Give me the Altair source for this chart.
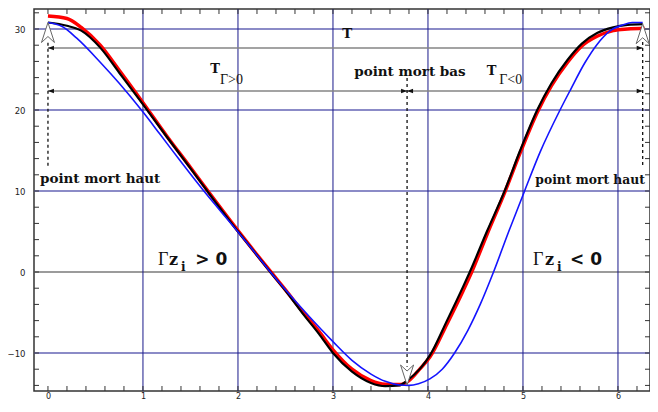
import altair as alt
import pandas as pd

# ---------------- curve data ----------------
black_x = [0.0, 0.2, 0.35, 0.55, 0.75, 1.0, 1.25, 1.5, 1.67, 2.0, 2.13, 2.34, 2.5, 2.68, 2.85,
           3.0, 3.2, 3.4, 3.55, 3.7, 3.78, 3.92, 4.02, 4.2, 4.37, 4.44, 4.62, 4.81, 4.97, 5.15,
           5.3, 5.47, 5.62, 5.78, 5.95, 6.1, 6.26]
black_y = [30.8, 30.4, 29.8, 27.7, 24.6, 20.7, 16.7, 12.8, 10.1, 5.0, 3.1, 0.0, -2.3, -5.1, -7.6,
           -10.0, -12.3, -13.7, -14.1, -14.0, -13.4, -11.9, -10.3, -6.0, -1.8, 0.0, 5.0, 10.1, 15.0, 20.0,
           23.3, 26.2, 28.2, 29.5, 30.2, 30.5, 30.6]

red_x = [0.0, 0.2, 0.35, 0.55, 0.75, 1.0, 1.25, 1.5, 1.67, 2.0, 2.34, 2.5, 2.68, 2.85, 3.0,
         3.2, 3.4, 3.55, 3.7, 3.8, 3.92, 4.02, 4.2, 4.37, 4.46, 4.62, 4.81, 4.97, 5.15, 5.3,
         5.47, 5.62, 5.78, 5.95, 6.1, 6.28]
red_y = [31.6, 31.3, 30.2, 28.0, 24.9, 20.9, 16.8, 12.9, 10.2, 5.1, 0.1, -2.2, -4.9, -7.3, -9.6,
         -12.0, -13.4, -13.85, -13.9, -13.4, -11.9, -10.5, -6.4, -2.3, 0.0, 4.6, 9.9, 14.7, 19.7, 23.0,
         25.9, 27.9, 29.1, 29.8, 30.0, 30.1]

blue_x = [0.0, 0.15, 0.3, 0.55, 0.75, 0.99, 1.18, 1.4, 1.62, 1.99, 2.15, 2.3, 2.5, 2.75, 3.0,
          3.2, 3.4, 3.55, 3.7, 3.8, 3.9, 4.02, 4.15, 4.28, 4.42, 4.55, 4.69, 4.85, 5.02, 5.18,
          5.39, 5.5, 5.65, 5.78, 5.92, 6.05, 6.15, 6.26]
blue_y = [30.8, 30.3, 28.9, 25.9, 23.3, 19.9, 17.0, 13.6, 10.3, 5.1, 2.8, 0.6, -2.2, -5.5, -8.6,
          -10.9, -12.6, -13.5, -13.95, -14.0, -13.8, -13.2, -12.0, -10.0, -7.2, -4.0, 0.0, 5.0, 10.1, 14.8,
          20.0, 22.5, 25.8, 28.1, 29.8, 30.5, 30.8, 30.8]

# ---------------- axes / grid values ----------------
x_labels = [0, 1, 2, 3, 4, 5, 6]
y_labels = [-10, 0, 10, 20, 30]
x_grid = [1, 2, 3, 4, 5, 6]
y_grid_blue = [-10, 10, 20, 30]
y_grid_gray = [0]
x_minor = [round(i * 0.2, 1) for i in range(32)]
y_minor = list(range(-14, 33, 2))

# ---------------- annotation data ----------------
period_arrow_y = [27.65, 22.35]
arrow_left_x = [0.0, 0.0]
arrow_right_x = [6.26, 6.26]
mid_x = 3.78
dash_x = [0.0, 6.26, 3.78]
dash_y1 = [28.3, 28.4, 23.95]
dash_y2 = [13.0, 13.0, -11.7]
marker_up_x = [0.0, 6.26]
marker_up_y = [30.8, 30.65]
marker_down_x = [3.78]
marker_down_y = [-13.95]

bold_text = ["T", "point mort bas"]
bold_text_x = [3.15, 3.81]
bold_text_y = [29.4, 24.7]
haut_left_text = ["point mort haut"]
haut_left_x = [-0.084]
haut_left_y = [11.5]
haut_right_text = ["point mort haut"]
haut_right_x = [5.13]
haut_right_y = [11.4]
T_x = [1.76, 4.67]
T_y = [25.1, 24.8]
sub_text = ["Γ>0", "Γ<0"]
sub_x = [1.81, 4.75]
sub_y = [23.7, 23.7]
gamma_x = [1.158, 5.105]
z_x = [1.274, 5.232]
i_x = [1.40, 5.358]
ineq_text = ["> 0", "< 0"]
ineq_x = [1.55, 5.495]
base_y = [0.86, 0.86]
i_y = [0.15, 0.15]

# ---------------- scales ----------------
W, H = 616, 382
xsc = alt.Scale(domain=[-0.147, 6.337], nice=False, zero=False)
ysc = alt.Scale(domain=[-14.69, 32.47], nice=False, zero=False)

x_axis = alt.Axis(values=x_labels, grid=False, ticks=False, domain=False, labelFontSize=8,
                  labelFont="DejaVu Sans", labelColor="#222", labelPadding=1, format="d", title=None)
y_axis = alt.Axis(values=y_labels, grid=False, ticks=False, domain=False, labelFontSize=8.5,
                  labelFont="DejaVu Sans", labelColor="#222", labelPadding=9, format="d", title=None)


def X(f="x"):
    return alt.X(f"{f}:Q", scale=xsc, axis=x_axis, title=None)


def Y(f="y"):
    return alt.Y(f"{f}:Q", scale=ysc, axis=y_axis, title=None)


def text_layer(xs, ys, texts, **style):
    df = pd.DataFrame({"x": xs, "y": ys, "t": texts})
    return alt.Chart(df).mark_text(color="#111", **style).encode(x=X(), y=Y(), text="t:N")


layers = []

# grid
layers.append(alt.Chart(pd.DataFrame({"y": y_grid_blue})).mark_rule(color="#6464b4", strokeWidth=1.5)
              .encode(y=Y()))
layers.append(alt.Chart(pd.DataFrame({"y": y_grid_gray})).mark_rule(color="#7a7a7a", strokeWidth=1.5)
              .encode(y=Y()))
layers.append(alt.Chart(pd.DataFrame({"x": x_grid})).mark_rule(color="#1a1a8a", strokeWidth=1)
              .encode(x=X()))

# period arrows
arr = pd.DataFrame({"x": arrow_left_x, "x2": arrow_right_x, "y": period_arrow_y})
layers.append(alt.Chart(arr).mark_rule(color="#858585", strokeWidth=1.5)
              .encode(x=X(), x2="x2:Q", y=Y()))
left_heads = pd.DataFrame({"x": arrow_left_x + [mid_x], "y": period_arrow_y + [period_arrow_y[1]]})
right_heads = pd.DataFrame({"x": arrow_right_x + [mid_x], "y": period_arrow_y + [period_arrow_y[1]]})
layers.append(alt.Chart(left_heads).mark_point(shape="M0,0L2,-0.75L2,0.75Z", size=36, filled=True,
                                               color="#111", opacity=1)
              .encode(x=X(), y=Y()))
layers.append(alt.Chart(right_heads).mark_point(shape="M0,0L-2,-0.75L-2,0.75Z", size=36, filled=True,
                                                color="#111", opacity=1)
              .encode(x=X(), y=Y()))

# dotted verticals
dash = pd.DataFrame({"x": dash_x, "y": dash_y1, "y2": dash_y2})
layers.append(alt.Chart(dash).mark_rule(color="#111", strokeWidth=1.3, strokeDash=[3, 3])
              .encode(x=X(), y=Y(), y2="y2:Q"))

# curves
for xs, ys, col, sw in [(red_x, red_y, "#ff0000", 3.5), (black_x, black_y, "#000000", 2.2),
                        (blue_x, blue_y, "#1414ff", 1.6)]:
    layers.append(alt.Chart(pd.DataFrame({"x": xs, "y": ys})).mark_line(
        color=col, strokeWidth=sw, interpolate="monotone").encode(x=X(), y=Y()))

# hollow arrow markers
layers.append(alt.Chart(pd.DataFrame({"x": marker_up_x, "y": marker_up_y})).mark_point(
    shape="M0,0L0.65,2L0,1.4L-0.65,2Z", size=400, filled=True, fill="white", stroke="#666",
    strokeWidth=1, opacity=1).encode(x=X(), y=Y()))
layers.append(alt.Chart(pd.DataFrame({"x": marker_down_x, "y": marker_down_y})).mark_point(
    shape="M0,0L0.65,-2L0,-1.4L-0.65,-2Z", size=400, filled=True, fill="white", stroke="#666",
    strokeWidth=1, opacity=1).encode(x=X(), y=Y()))

# texts
layers.append(text_layer(bold_text_x, bold_text_y, bold_text, font="DejaVu Serif", fontWeight="bold",
                         fontSize=13.5, align="center", baseline="middle"))
layers.append(text_layer(haut_left_x, haut_left_y, haut_left_text, font="DejaVu Serif", fontWeight="bold",
                         fontSize=13.5, align="left", baseline="middle"))
layers.append(text_layer(haut_right_x, haut_right_y, haut_right_text, font="DejaVu Serif", fontWeight="bold",
                         fontSize=12.3, align="left", baseline="middle"))
layers.append(text_layer(T_x, T_y, ["T", "T"], font="DejaVu Serif", fontWeight="bold",
                         fontSize=13, align="center", baseline="middle"))
layers.append(text_layer(sub_x, sub_y, sub_text, font="Liberation Serif",
                         fontSize=14, align="left", baseline="middle"))
layers.append(text_layer(gamma_x, base_y, ["Γ", "Γ"], font="Liberation Serif",
                         fontSize=18, align="left", baseline="alphabetic"))
layers.append(text_layer(z_x, base_y, ["z", "z"], font="DejaVu Serif", fontWeight="bold",
                         fontSize=16, align="left", baseline="alphabetic"))
layers.append(text_layer(i_x, i_y, ["i", "i"], font="DejaVu Serif", fontWeight="bold",
                         fontSize=12, align="left", baseline="alphabetic"))
layers.append(text_layer(ineq_x, base_y, ineq_text, font="DejaVu Sans", fontWeight="bold",
                         fontSize=17, align="left", baseline="alphabetic"))

# inward ticks
xt = pd.DataFrame({"x": x_minor})
yt = pd.DataFrame({"y": y_minor})
layers.append(alt.Chart(xt).mark_rule(color="#333", strokeWidth=1)
              .encode(x=X(), y=alt.value(H), y2=alt.value(H - 5)))
layers.append(alt.Chart(xt).mark_rule(color="#333", strokeWidth=1)
              .encode(x=X(), y=alt.value(0), y2=alt.value(5)))
layers.append(alt.Chart(yt).mark_rule(color="#333", strokeWidth=1)
              .encode(y=Y(), x=alt.value(0), x2=alt.value(5)))
layers.append(alt.Chart(yt).mark_rule(color="#333", strokeWidth=1)
              .encode(y=Y(), x=alt.value(W), x2=alt.value(W - 5)))

chart = alt.layer(*layers).properties(
    width=W, height=H,
    padding={"left": 26, "top": 1, "right": 0, "bottom": 9},
    autosize=alt.AutoSizeParams(type="none"),
    background="white",
).configure_view(stroke="#333", strokeWidth=1.5)

chart.save("out.html", embed_options={"renderer": "svg", "actions": False})
